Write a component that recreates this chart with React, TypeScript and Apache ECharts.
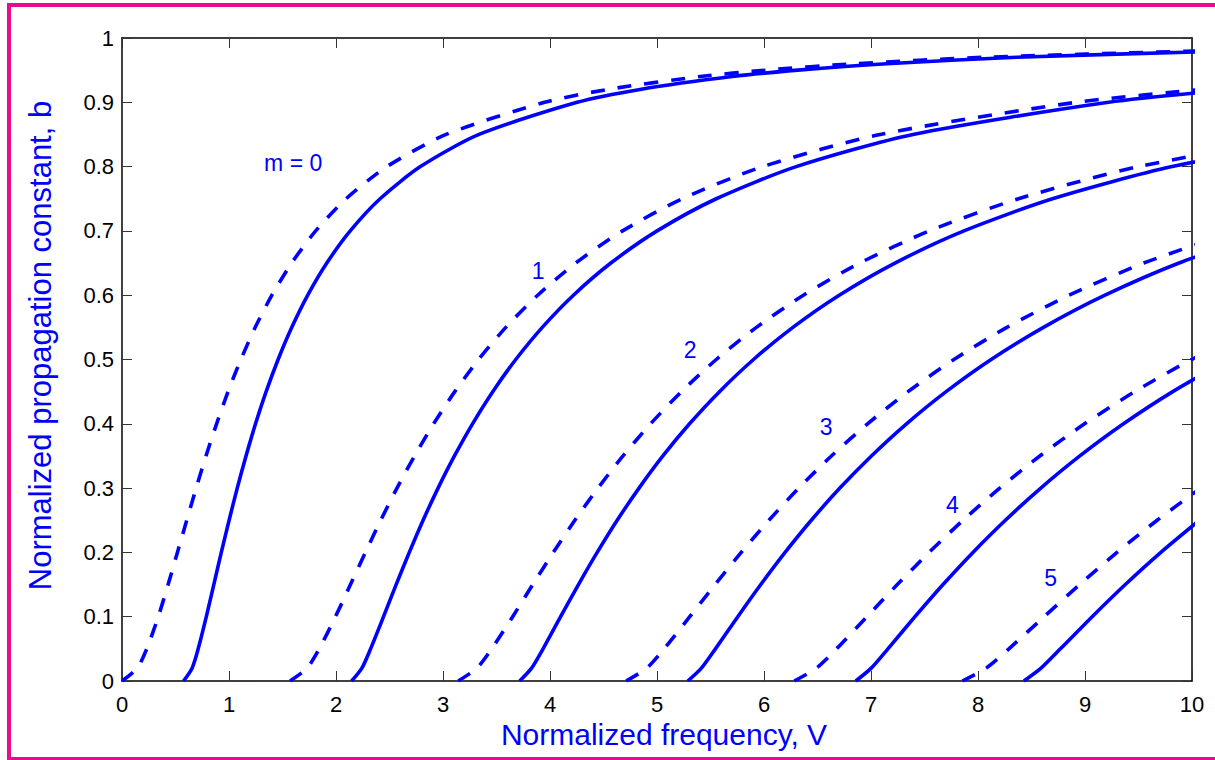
import React, { useEffect, useRef } from "react";
import * as echarts from "echarts";

// Normalized propagation constant samples (b) shared by every curve
const B_SAMPLES = [0, 0.02, 0.05, 0.1, 0.15, 0.2, 0.25, 0.3, 0.35, 0.4, 0.45, 0.5, 0.55, 0.6, 0.65, 0.7, 0.75, 0.8, 0.85, 0.9, 0.92, 0.94, 0.95, 0.96, 0.97, 0.98];

// Dashed curves: normalized frequency V at each b sample
const DASH_M0 = [0, 0.143, 0.231, 0.339, 0.431, 0.518, 0.605, 0.693, 0.785, 0.884, 0.991, 1.111, 1.245, 1.401, 1.585, 1.81, 2.094, 2.476, 3.029, 3.95, 4.54, 5.402, 6.016, 6.847, 8.064, 10.104];
const DASH_M1 = [1.571, 1.73, 1.843, 1.995, 2.135, 2.275, 2.418, 2.57, 2.734, 2.912, 3.11, 3.332, 3.587, 3.885, 4.24, 4.678, 5.236, 5.988, 7.085, 8.917, 10.094];
const DASH_M2 = [3.142, 3.317, 3.455, 3.651, 3.839, 4.031, 4.232, 4.448, 4.682, 4.94, 5.228, 5.554, 5.929, 6.368, 6.895, 7.545, 8.378, 9.501, 11.14];
const DASH_M3 = [4.712, 4.904, 5.066, 5.306, 5.543, 5.787, 6.046, 6.325, 6.63, 6.968, 7.346, 7.775, 8.27, 8.852, 9.55, 10.413];
const DASH_M4 = [6.283, 6.49, 6.678, 6.962, 7.246, 7.543, 7.86, 8.203, 8.578, 8.996, 9.464, 9.996, 10.612];
const DASH_M5 = [7.854, 8.077, 8.289, 8.618, 8.95, 9.299, 9.674, 10.08];

// Solid curves
const SOLID_M0 = [0.575, 0.655, 0.712, 0.788, 0.858, 0.928, 1.001, 1.077, 1.159, 1.248, 1.347, 1.459, 1.587, 1.736, 1.914, 2.133, 2.412, 2.789, 3.337, 4.254, 4.842, 5.703, 6.316, 7.146, 8.362, 10.401];
const SOLID_M1 = [2.146, 2.242, 2.323, 2.444, 2.562, 2.685, 2.814, 2.954, 3.107, 3.276, 3.465, 3.68, 3.928, 4.219, 4.569, 5.001, 5.554, 6.301, 7.393, 9.221, 10.396];
const SOLID_M2 = [3.717, 3.828, 3.935, 4.099, 4.266, 4.441, 4.628, 4.832, 5.055, 5.304, 5.584, 5.902, 6.27, 6.703, 7.224, 7.869, 8.696, 9.814, 11.449];
const SOLID_M3 = [5.288, 5.415, 5.546, 5.755, 5.97, 6.197, 6.442, 6.709, 7.004, 7.332, 7.702, 8.123, 8.612, 9.187, 9.879, 10.737];
const SOLID_M4 = [6.858, 7.002, 7.158, 7.411, 7.673, 7.953, 8.256, 8.587, 8.952, 9.36, 9.82, 10.345];
const SOLID_M5 = [8.429, 8.589, 8.77, 9.067, 9.377, 9.709, 10.07];

// Mode labels
const LABEL_TEXT = ["m = 0", "1", "2", "3", "4", "5"];
const LABEL_V = [1.6, 3.89, 5.31, 6.58, 7.76, 8.68];
const LABEL_B = [0.806, 0.638, 0.515, 0.395, 0.274, 0.16];

const X_TICKS = [0, 10, 1];
const Y_TICKS = [0, 1, 0.1];

const BLUE = "#0000ff";
const MAGENTA = "#ea0a8c";
const FONT = "'Liberation Sans', Arial, Helvetica, sans-serif";

function toPairs(vs: number[]) {
  return vs.map((v, i) => [v, B_SAMPLES[i]]);
}

export default function App() {
  const ref = useRef<HTMLDivElement>(null);
  useEffect(() => {
    if (!ref.current) return;
    const chart = echarts.init(ref.current, null, { renderer: "svg" });
    const dashed = [DASH_M0, DASH_M1, DASH_M2, DASH_M3, DASH_M4, DASH_M5];
    const solid = [SOLID_M0, SOLID_M1, SOLID_M2, SOLID_M3, SOLID_M4, SOLID_M5];
    const series: any[] = [];
    const mk = (vs: number[], name: string, type: any) => ({
      type: "line",
      name,
      data: toPairs(vs),
      showSymbol: false,
      symbol: "none",
      clip: true,
      smooth: 0.25,
      lineStyle: { color: BLUE, width: 3.6, type, cap: "butt", join: "round" },
      z: 3,
    });
    dashed.forEach((vs, i) => series.push(mk(vs, "dashed m" + i, [14, 13])));
    solid.forEach((vs, i) => series.push(mk(vs, "solid m" + i, "solid")));
    series.push({
      type: "scatter",
      data: LABEL_TEXT.map((t, i) => [LABEL_V[i], LABEL_B[i], t]),
      symbolSize: 1,
      silent: true,
      itemStyle: { color: "rgba(0,0,0,0)", opacity: 1 },
      label: {
        show: true,
        position: "inside",
        formatter: (p: any) => p.data[2],
        color: BLUE,
        fontSize: 23,
        fontFamily: FONT,
        textBorderWidth: 0,
        opacity: 1,
      },
      z: 5,
    });

    const axisCommon = {
      type: "value",
      axisLine: { show: true, onZero: false, lineStyle: { color: "#000", width: 1.5 } },
      axisTick: { show: true, inside: true, length: 10, lineStyle: { color: "#333", width: 1 } },
      splitLine: { show: false },
    };

    chart.setOption({
      animation: false,
      backgroundColor: "#fff",
      textStyle: { fontFamily: FONT },
      grid: { left: 122, right: 23, top: 38, bottom: 79, containLabel: false },
      xAxis: [
        {
          ...axisCommon,
          position: "bottom",
          min: X_TICKS[0],
          max: X_TICKS[1],
          interval: X_TICKS[2],
          axisLabel: { color: "#000", fontSize: 22, margin: 12, fontFamily: FONT },
          name: "Normalized frequency, V",
          nameLocation: "middle",
          nameGap: 35,
          nameTextStyle: { color: BLUE, fontSize: 30, fontFamily: FONT, padding: [0, 0, 0, 14] },
        },
        {
          ...axisCommon,
          position: "top",
          min: X_TICKS[0],
          max: X_TICKS[1],
          interval: X_TICKS[2],
          axisLabel: { show: false },
        },
      ],
      yAxis: [
        {
          ...axisCommon,
          position: "left",
          min: Y_TICKS[0],
          max: Y_TICKS[1],
          interval: Y_TICKS[2],
          axisLabel: { color: "#000", fontSize: 22, margin: 8, fontFamily: FONT },
          name: "Normalized propagation constant, b",
          nameLocation: "middle",
          nameGap: 66,
          nameTextStyle: { color: BLUE, fontSize: 31, fontFamily: FONT, padding: [0, 0, 0, 28] },
        },
        {
          ...axisCommon,
          position: "right",
          min: Y_TICKS[0],
          max: Y_TICKS[1],
          interval: Y_TICKS[2],
          axisLabel: { show: false },
        },
      ],
      graphic: [
        { type: "rect", shape: { x: 7, y: 3, width: 1208, height: 4 }, style: { fill: MAGENTA }, silent: true },
        { type: "rect", shape: { x: 7, y: 3, width: 4, height: 757 }, style: { fill: MAGENTA }, silent: true },
        { type: "rect", shape: { x: 7, y: 757, width: 1208, height: 3 }, style: { fill: MAGENTA }, silent: true },
      ],
      series,
    });
    return () => chart.dispose();
  }, []);
  return (
    <div
      ref={ref}
      style={{ position: "fixed", left: 0, top: 0, width: 1215, height: 760, background: "#fff" }}
    />
  );
}
